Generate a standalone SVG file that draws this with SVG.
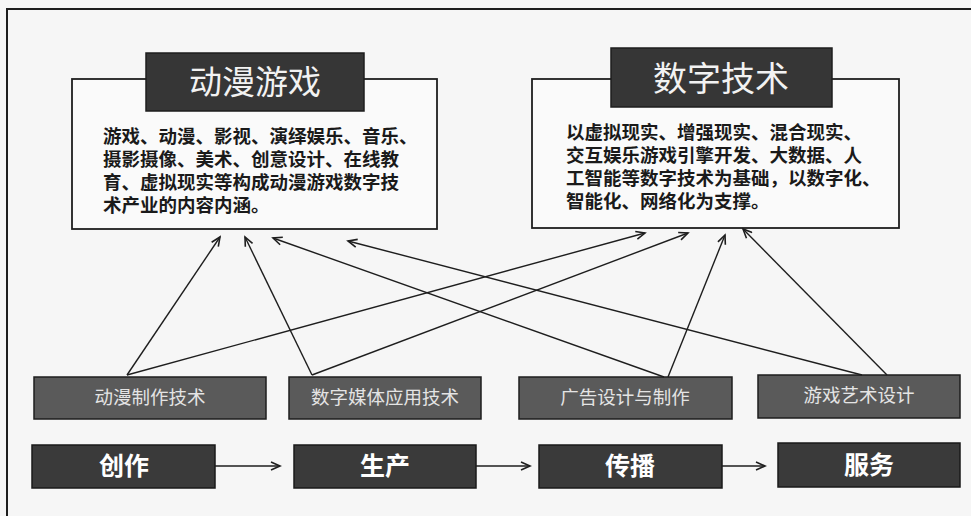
<svg xmlns="http://www.w3.org/2000/svg" width="971" height="516" viewBox="0 0 971 516">
<defs>
<marker id="arr" markerWidth="12" markerHeight="10" refX="10" refY="5" orient="auto" markerUnits="userSpaceOnUse">
<path d="M1,1 L10,5 L1,9" fill="none" stroke="#1e1e1e" stroke-width="1.6"/>
</marker>
<style>
.frame{fill:none;stroke:#1e1e1e;stroke-width:2}
.box{fill:#fafafa;stroke:#1e1e1e;stroke-width:1.8}
.title{fill:#363636;stroke:#1e1e1e;stroke-width:1.5}
.tt{font-family:"Liberation Sans","Noto Sans CJK SC",sans-serif;fill:#f2f2f2;text-anchor:middle}
.body{font-family:"Liberation Sans","Noto Sans CJK SC",sans-serif;font-size:18.5px;font-weight:bold;fill:#1a1a1a}
.tech{fill:#5a5a5a;stroke:#1e1e1e;stroke-width:1.5}
.techt{font-family:"Liberation Sans","Noto Sans CJK SC",sans-serif;font-size:18.5px;fill:#e4e4e4;text-anchor:middle}
.stage{fill:#3a3a3a;stroke:#1a1a1a;stroke-width:1.5}
.staget{font-family:"Liberation Sans","Noto Sans CJK SC",sans-serif;font-size:25px;font-weight:bold;fill:#ffffff;text-anchor:middle}
.conn{stroke:#1e1e1e;stroke-width:1.4;fill:none;marker-end:url(#arr)}
</style>
</defs>
<rect x="0" y="0" width="971" height="516" fill="#f6f6f6"/>
<rect class="frame" x="7" y="9" width="990" height="530"/>

<g id="node-anime">
<rect class="box" x="72" y="79" width="365" height="150"/>
<rect class="title" x="146" y="53" width="218" height="58"/>
<text class="tt" x="255" y="94" font-size="33">动漫游戏</text>
<text class="body" x="103" y="143">游戏、动漫、影视、演绎娱乐、音乐、</text>
<text class="body" x="103" y="166">摄影摄像、美术、创意设计、在线教</text>
<text class="body" x="103" y="189">育、虚拟现实等构成动漫游戏数字技</text>
<text class="body" x="103" y="212">术产业的内容内涵。</text>
</g>

<g id="node-digital">
<rect class="box" x="532" y="79" width="367" height="149"/>
<rect class="title" x="611" y="48" width="221" height="59"/>
<text class="tt" x="721" y="91" font-size="34">数字技术</text>
<text class="body" x="566" y="139">以虚拟现实、增强现实、混合现实、</text>
<text class="body" x="566" y="162">交互娱乐游戏引擎开发、大数据、人</text>
<text class="body" x="566" y="185">工智能等数字技术为基础，以数字化、</text>
<text class="body" x="566" y="208">智能化、网络化为支撑。</text>
</g>

<g id="node-tech1">
<rect class="tech" x="34" y="377" width="232" height="42"/>
<text class="techt" x="150" y="404">动漫制作技术</text>
</g>
<g id="node-tech2">
<rect class="tech" x="289" y="377" width="192" height="42"/>
<text class="techt" x="385" y="404">数字媒体应用技术</text>
</g>
<g id="node-tech3">
<rect class="tech" x="519" y="377" width="213" height="42"/>
<text class="techt" x="625" y="404">广告设计与制作</text>
</g>
<g id="node-tech4">
<rect class="tech" x="758" y="375" width="202" height="43"/>
<text class="techt" x="859" y="402">游戏艺术设计</text>
</g>

<g id="node-create">
<rect class="stage" x="32" y="445" width="183" height="43"/>
<text class="staget" x="124" y="475">创作</text>
</g>
<g id="node-produce">
<rect class="stage" x="294" y="445" width="182" height="43"/>
<text class="staget" x="385" y="475">生产</text>
</g>
<g id="node-spread">
<rect class="stage" x="539" y="445" width="183" height="43"/>
<text class="staget" x="630" y="475">传播</text>
</g>
<g id="node-service">
<rect class="stage" x="778" y="443" width="182" height="44"/>
<text class="staget" x="869" y="474">服务</text>
</g>

<g id="connectors">
<line class="conn" x1="127" y1="375" x2="220" y2="237"/>
<line class="conn" x1="127" y1="375" x2="645" y2="233"/>
<line class="conn" x1="312" y1="375" x2="245" y2="237"/>
<line class="conn" x1="312" y1="375" x2="688" y2="233"/>
<line class="conn" x1="664" y1="377" x2="273" y2="238"/>
<line class="conn" x1="668" y1="377" x2="725" y2="235"/>
<line class="conn" x1="862" y1="375" x2="348" y2="241"/>
<line class="conn" x1="887" y1="375" x2="743" y2="229"/>
<line class="conn" x1="215" y1="466" x2="280" y2="466"/>
<line class="conn" x1="476" y1="466" x2="530" y2="466"/>
<line class="conn" x1="722" y1="466" x2="765" y2="466"/>
</g>
</svg>
